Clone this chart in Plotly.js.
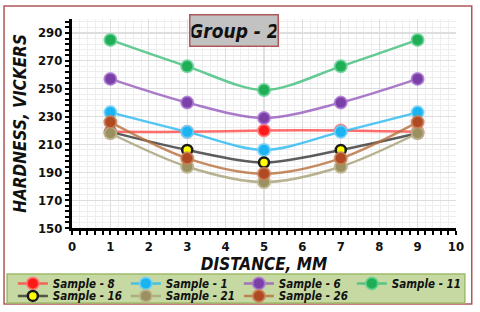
<!DOCTYPE html>
<html>
<head>
<meta charset="utf-8">
<script src="https://cdn.plot.ly/plotly-3.0.1.min.js"></script>
<style>html,body{margin:0;padding:0;background:#fff;}#chart{width:480px;height:312px;}</style>
</head>
<body>
<div id="chart"></div>
<script>
const distance = [1, 3, 5, 7, 9];
const sampleNames = ["Sample - 8", "Sample - 1", "Sample - 6", "Sample - 11", "Sample - 16", "Sample - 21", "Sample - 26"];
const sample8  = [219, 219, 220, 220, 219];
const sample1  = [233, 219, 206, 219, 233];
const sample6  = [257, 240, 229, 240, 257];
const sample11 = [285, 266, 249, 266, 285];
const sample16 = [219, 206, 197, 206, 218];
const sample21 = [218, 194, 183, 194, 218];
const sample26 = [226, 200, 189, 200, 226];
const xTicks = [0,1,2,3,4,5,6,7,8,9,10];
const yTicks = [150,170,190,210,230,250,270,290];

const seriesVals = [sample8, sample1, sample6, sample11, sample16, sample21, sample26];
const lineColors = ["rgba(255,60,60,0.75)", "rgba(40,185,240,0.8)", "rgba(150,90,190,0.8)", "rgba(60,190,120,0.8)", "rgba(40,40,40,0.75)", "rgba(170,165,125,0.85)", "rgba(185,110,60,0.8)"];
const markerColors = ["#ff1a1a", "#1ab4f0", "#7b3fa8", "#1fae55", "#ffff00", "#9a9060", "#b04a22"];
const markerLines = ["rgba(255,120,120,0.8)", "rgba(110,210,250,0.8)", "rgba(170,120,210,0.8)", "rgba(100,210,150,0.8)", "#1a1a1a", "rgba(190,180,140,0.9)", "rgba(200,130,90,0.85)"];

const traces = seriesVals.map((vals, i) => ({
  type: "scatter",
  mode: "lines+markers",
  x: distance,
  y: vals,
  name: sampleNames[i],
  legend: i < 4 ? "legend" : "legend2",
  line: {shape: "spline", smoothing: 0.9, color: lineColors[i], width: 2.5},
  marker: {symbol: "circle", size: i === 4 ? 10 : 12, color: markerColors[i],
           line: {color: markerLines[i], width: i === 4 ? 2.5 : 2}}
}));

const FAM = "DejaVu Sans Condensed, Liberation Sans Narrow, sans-serif";
const tickFont = {family: FAM, size: 13, color: "#111", weight: "bold"};
const titleFont = {family: FAM, size: 17, color: "#111", weight: "bold", style: "italic"};
const legFont = {family: FAM, size: 11.5, color: "#111", weight: "bold", style: "italic"};

const legendBase = {
  orientation: "h", x: -0.154, xanchor: "left", yanchor: "middle",
  bgcolor: "rgba(0,0,0,0)", borderwidth: 0,
  entrywidth: 68, entrywidthmode: "pixels",
  tracegroupgap: 0, itemwidth: 30, font: legFont
};

const layout = {
  width: 480, height: 312,
  margin: {l: 72, r: 24, t: 19, b: 84, autoexpand: false},
  paper_bgcolor: "#ffffff",
  plot_bgcolor: "#ffffff",
  showlegend: true,
  xaxis: {
    range: [0, 10], tickvals: xTicks, ticktext: xTicks.map(String), automargin: false,
    showline: true, linecolor: "#000", linewidth: 3,
    ticks: "outside", ticklen: 4, tickwidth: 2, tickcolor: "#000",
    gridcolor: "#dedede", gridwidth: 1.2, zeroline: false,
    minor: {dtick: 0.2, showgrid: true, gridcolor: "#eeeeee", gridwidth: 1, ticks: "outside", ticklen: 4, tickwidth: 2, tickcolor: "#000"},
    tickfont: tickFont,
    title: {text: "DISTANCE, MM", font: titleFont, standoff: 2}
  },
  yaxis: {
    range: [150, 300], tickvals: yTicks, ticktext: yTicks.map(String), automargin: false,
    showline: true, linecolor: "#000", linewidth: 3,
    ticks: "outside", ticklen: 4, tickwidth: 2, tickcolor: "#000",
    gridcolor: "#dedede", gridwidth: 1.2, zeroline: false,
    minor: {dtick: 4, tick0: 150, showgrid: true, gridcolor: "#eeeeee", gridwidth: 1, ticks: "outside", ticklen: 4, tickwidth: 2, tickcolor: "#000"},
    tickfont: tickFont,
    title: {text: "HARDNESS, VICKERS", font: titleFont, standoff: 8}
  },
  legend: Object.assign({}, legendBase, {y: -0.265}),
  legend2: Object.assign({}, legendBase, {y: -0.325}),
  annotations: [{
    xref: "paper", yref: "paper", x: 0.423, y: 0.943, xanchor: "center", yanchor: "middle",
    text: "Group - 2", showarrow: false, width: 85, height: 28,
    bgcolor: "#c2c2c2", bordercolor: "#b0575a", borderwidth: 1.5,
    font: {family: FAM, size: 19, color: "#111", weight: "bold", style: "italic"}
  }],
  shapes: [{
    type: "rect", xref: "paper", yref: "paper",
    x0: -0.177, x1: 1.041, y0: -0.364, y1: 1.062,
    line: {color: "#b0575a", width: 1.5}, fillcolor: "rgba(0,0,0,0)", layer: "below"
  }, {
    type: "rect", xref: "paper", yref: "paper",
    x0: -0.169, x1: 1.023, y0: -0.359, y1: -0.220,
    line: {color: "#9fba6a", width: 1.5}, fillcolor: "#c6d9a2", layer: "below"
  }]
};

Plotly.newPlot("chart", traces, layout, {displayModeBar: false, staticPlot: true});
</script>
</body>
</html>
